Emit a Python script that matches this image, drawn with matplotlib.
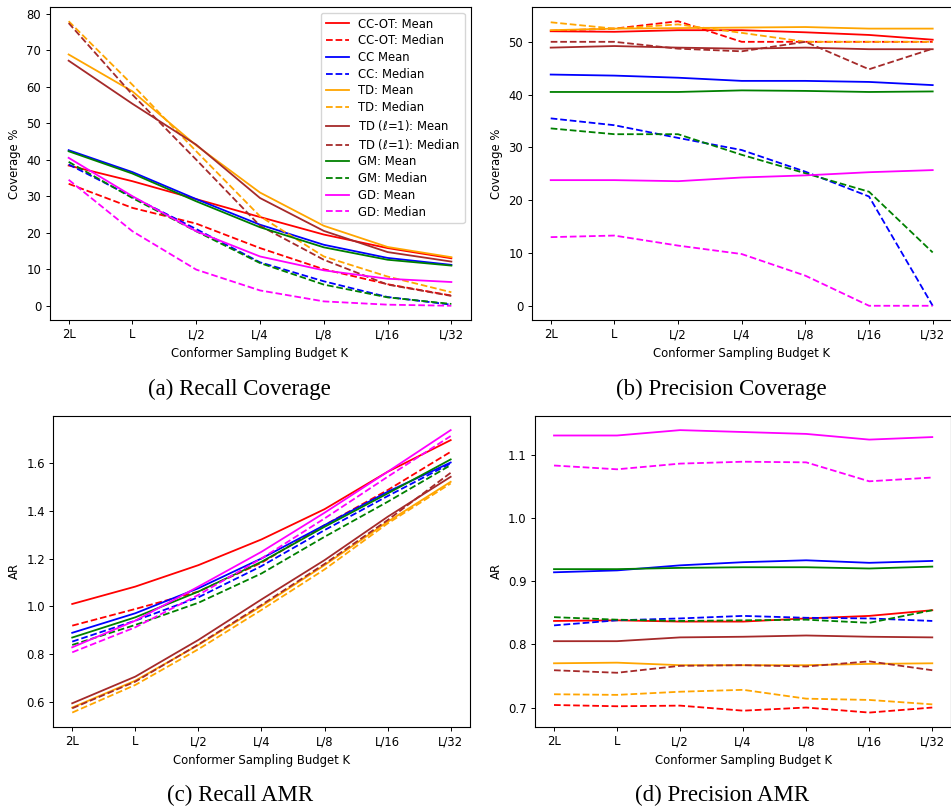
import matplotlib

matplotlib.use("Agg")
import matplotlib.pyplot as plt

budgets = ["2L", "L", "L/2", "L/4", "L/8", "L/16", "L/32"]

methods = ["CC-OT", "CC", "TD", "TD_l1", "GM", "GD"]
colors = {
    "CC-OT": "red",
    "CC": "blue",
    "TD": "orange",
    "TD_l1": "brown",
    "GM": "green",
    "GD": "magenta",
}
mean_labels = {
    "CC-OT": "CC-OT: Mean",
    "CC": "CC Mean",
    "TD": "TD: Mean",
    "TD_l1": r"TD ($\ell$=1): Mean",
    "GM": "GM: Mean",
    "GD": "GD: Mean",
}
median_labels = {
    "CC-OT": "CC-OT: Median",
    "CC": "CC: Median",
    "TD": "TD: Median",
    "TD_l1": r"TD ($\ell$=1): Median",
    "GM": "GM: Median",
    "GD": "GD: Median",
}

# recall coverage (%)
recall_cov_mean = {
    "CC-OT": [38.4, 34.1, 29.2, 24.3, 19.5, 15.8, 13.0],
    "CC": [42.6, 36.6, 29.2, 22.2, 16.7, 13.1, 11.2],
    "TD": [68.8, 58.7, 43.9, 31.0, 21.9, 16.1, 13.3],
    "TD_l1": [67.1, 55.3, 44.1, 29.5, 20.5, 14.7, 12.1],
    "GM": [42.3, 36.2, 28.6, 21.5, 16.0, 12.6, 11.0],
    "GD": [40.5, 30.0, 20.4, 13.5, 9.7, 7.4, 6.5],
}
recall_cov_median = {
    "CC-OT": [33.4, 26.8, 22.5, 15.8, 10.0, 5.9, 2.8],
    "CC": [38.7, 29.8, 21.0, 11.9, 6.7, 2.4, 0.3],
    "TD": [77.9, 60.5, 42.3, 24.5, 13.5, 8.0, 3.7],
    "TD_l1": [77.4, 57.8, 40.0, 21.9, 12.6, 5.8, 2.7],
    "GM": [39.4, 29.5, 20.4, 11.7, 5.8, 2.3, 0.5],
    "GD": [34.5, 20.4, 9.9, 4.2, 1.2, 0.3, 0.0],
}

# precision coverage (%)
precision_cov_mean = {
    "CC-OT": [52.0, 51.9, 52.2, 52.2, 51.8, 51.3, 50.4],
    "CC": [43.8, 43.6, 43.2, 42.6, 42.6, 42.4, 41.8],
    "TD": [52.2, 52.5, 52.6, 52.7, 52.8, 52.5, 52.5],
    "TD_l1": [48.9, 49.2, 48.9, 48.7, 48.9, 48.6, 48.6],
    "GM": [40.5, 40.5, 40.5, 40.8, 40.7, 40.5, 40.6],
    "GD": [23.8, 23.8, 23.6, 24.3, 24.7, 25.3, 25.7],
}
precision_cov_median = {
    "CC-OT": [52.1, 52.5, 53.9, 50.0, 50.0, 50.0, 50.0],
    "CC": [35.5, 34.2, 31.8, 29.5, 25.4, 20.7, 0.0],
    "TD": [53.7, 52.5, 53.3, 51.7, 50.0, 50.0, 50.0],
    "TD_l1": [50.0, 50.0, 48.7, 48.2, 50.0, 44.8, 48.7],
    "GM": [33.6, 32.5, 32.5, 28.6, 25.1, 21.6, 10.1],
    "GD": [13.0, 13.3, 11.4, 9.8, 5.7, 0.0, 0.0],
}

# recall AMR
recall_amr_mean = {
    "CC-OT": [1.010, 1.083, 1.173, 1.281, 1.408, 1.565, 1.698],
    "CC": [0.889, 0.971, 1.076, 1.201, 1.341, 1.481, 1.604],
    "TD": [0.575, 0.688, 0.838, 1.001, 1.173, 1.355, 1.523],
    "TD_l1": [0.593, 0.705, 0.859, 1.029, 1.194, 1.376, 1.544],
    "GM": [0.869, 0.954, 1.062, 1.187, 1.334, 1.474, 1.617],
    "GD": [0.828, 0.940, 1.083, 1.229, 1.393, 1.565, 1.740],
}
recall_amr_median = {
    "CC-OT": [0.919, 0.989, 1.062, 1.183, 1.341, 1.488, 1.649],
    "CC": [0.852, 0.940, 1.038, 1.169, 1.320, 1.463, 1.600],
    "TD": [0.554, 0.670, 0.820, 0.985, 1.155, 1.348, 1.516],
    "TD_l1": [0.572, 0.684, 0.840, 1.006, 1.178, 1.362, 1.561],
    "GM": [0.838, 0.922, 1.015, 1.138, 1.292, 1.439, 1.593],
    "GD": [0.807, 0.912, 1.048, 1.201, 1.369, 1.544, 1.715],
}

# precision AMR
precision_amr_mean = {
    "CC-OT": [0.837, 0.838, 0.836, 0.836, 0.841, 0.845, 0.854],
    "CC": [0.914, 0.917, 0.925, 0.930, 0.933, 0.929, 0.932],
    "TD": [0.770, 0.771, 0.767, 0.767, 0.767, 0.769, 0.770],
    "TD_l1": [0.805, 0.805, 0.811, 0.812, 0.814, 0.812, 0.811],
    "GM": [0.919, 0.919, 0.921, 0.922, 0.922, 0.920, 0.923],
    "GD": [1.1305, 1.1305, 1.139, 1.136, 1.133, 1.124, 1.128],
}
precision_amr_median = {
    "CC-OT": [0.704, 0.702, 0.703, 0.695, 0.700, 0.692, 0.700],
    "CC": [0.830, 0.838, 0.841, 0.845, 0.842, 0.841, 0.837],
    "TD": [0.721, 0.720, 0.725, 0.728, 0.714, 0.712, 0.705],
    "TD_l1": [0.759, 0.755, 0.766, 0.767, 0.765, 0.773, 0.759],
    "GM": [0.843, 0.839, 0.837, 0.838, 0.839, 0.834, 0.854],
    "GD": [1.083, 1.077, 1.086, 1.089, 1.088, 1.058, 1.064],
}

FS = 8.4
plt.rcParams.update({
    "font.size": FS,
    "axes.linewidth": 0.8,
    "xtick.major.size": 3.0,
    "ytick.major.size": 3.0,
    "xtick.major.width": 0.7,
    "ytick.major.width": 0.7,
    "xtick.major.pad": 3.0,
    "ytick.major.pad": 3.0,
    "lines.linewidth": 1.3,
})

W, H = 951, 808
fig = plt.figure(figsize=(W / 100, H / 100), dpi=100)


def add_axes(left, right, top, bottom):
    """Place an axes from pixel edges (origin at top-left)."""
    return fig.add_axes([left / W, 1 - bottom / H, (right - left) / W, (bottom - top) / H])


def draw_panel(ax, means, medians, ylabel, legend=False):
    x = range(len(budgets))
    for m in methods:
        ax.plot(x, means[m], color=colors[m], linestyle="-", label=mean_labels[m])
        ax.plot(x, medians[m], color=colors[m], linestyle="--", label=median_labels[m])
    ax.set_xticks(list(x))
    ax.set_xticklabels(budgets)
    ax.set_xlabel("Conformer Sampling Budget K", fontsize=FS)
    ax.set_ylabel(ylabel, fontsize=FS)
    if legend:
        ax.legend(loc="upper right", fontsize=FS, handlelength=2.0, labelspacing=0.32)


ax_a = add_axes(49.5, 470.5, 7, 320)
draw_panel(ax_a, recall_cov_mean, recall_cov_median, "Coverage %", legend=True)

ax_b = add_axes(531.6, 951.8, 7, 320)
draw_panel(ax_b, precision_cov_mean, precision_cov_median, "Coverage %")

ax_c = add_axes(53.3, 469.6, 416, 726.7)
draw_panel(ax_c, recall_amr_mean, recall_amr_median, "AR")

ax_d = add_axes(535.1, 951.2, 416, 726.7)
draw_panel(ax_d, precision_amr_mean, precision_amr_median, "AR")

captions = [
    ("(a) Recall Coverage", 239, 395),
    ("(b) Precision Coverage", 721, 395),
    ("(c) Recall AMR", 240, 801),
    ("(d) Precision AMR", 722, 801),
]
for text, cx, cy in captions:
    fig.text(cx / W, 1 - cy / H, text, ha="center", va="baseline",
             family="Liberation Serif", fontsize=16.5)

fig.savefig("out.png", dpi=100)
